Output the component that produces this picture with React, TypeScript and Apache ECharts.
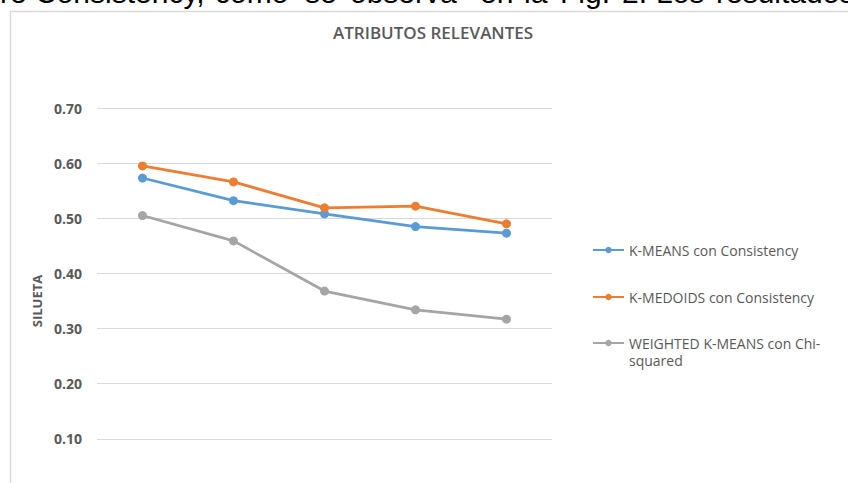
import React, { useEffect, useRef } from "react";
import * as echarts from "echarts";

// Number of clusters on the horizontal axis
const categories = ["2", "3", "4", "5", "6"];

// Silhouette scores per method
const kMeansConsistency = [0.573, 0.532, 0.508, 0.485, 0.473];
const kMedoidsConsistency = [0.595, 0.566, 0.519, 0.522, 0.49];
const weightedKMeansChi = [0.505, 0.459, 0.368, 0.334, 0.317];

const seriesNames = [
  "K-MEANS con Consistency",
  "K-MEDOIDS con Consistency",
  "WEIGHTED K-MEANS con Chi-squared",
];
const seriesColors = ["#5B9BD5", "#ED7D31", "#A5A5A5"];

// Running (justified) text of the page above the figure: word and its left edge
const bodyWords: [string, number][] = [
  ["re", 0],
  ["Consistency,", 35],
  ["como", 215],
  ["se", 305],
  ["observa", 350],
  ["en", 480],
  ["la", 524],
  ["Fig.", 560],
  ["2.", 622],
  ["Los", 656],
  ["resultados", 716],
];

const uiFont = "'Open Sans', Lato, sans-serif";
const grey = "#595959";

export default function App() {
  const ref = useRef<HTMLDivElement>(null);

  useEffect(() => {
    if (!ref.current) return;
    const chart = echarts.init(ref.current, null, { renderer: "svg" });

    const legendTops = [241.25, 288.25, 316.75];
    const legendLabels = [
      seriesNames[0],
      seriesNames[1],
      "\nWEIGHTED K-MEANS con Chi-\nsquared",
    ];

    chart.setOption({
      animation: false,
      backgroundColor: "#ffffff",
      title: {
        text: "ATRIBUTOS RELEVANTES",
        left: 333,
        top: 24,
        padding: 0,
        textStyle: {
          fontFamily: uiFont,
          fontSize: 17,
          fontWeight: 600,
          color: grey,
        },
      },
      legend: seriesNames.map((name, i) => ({
        data: [name],
        left: 592,
        top: legendTops[i],
        padding: 0,
        orient: "vertical",
        itemWidth: 31,
        itemHeight: 8,
        formatter: () => legendLabels[i],
        textStyle: {
          fontFamily: uiFont,
          fontSize: 14,
          color: grey,
          lineHeight: 17.5,
        },
      })),
      grid: { left: 97, right: 296, top: 108, bottom: 66 },
      xAxis: {
        type: "category",
        data: categories,
        boundaryGap: true,
        axisLine: { lineStyle: { color: "#d9d9d9" } },
        axisTick: { show: false },
        axisLabel: { color: grey, fontFamily: uiFont, fontSize: 13 },
      },
      yAxis: {
        type: "value",
        min: 0,
        max: 0.7,
        interval: 0.1,
        name: "SILUETA",
        nameLocation: "middle",
        nameRotate: 90,
        nameGap: 53,
        nameTextStyle: {
          fontFamily: uiFont,
          fontSize: 13,
          fontWeight: 700,
          color: grey,
        },
        axisLine: { show: false },
        axisTick: { show: false },
        axisLabel: {
          margin: 15,
          color: grey,
          fontFamily: uiFont,
          fontSize: 14,
          fontWeight: 700,
          formatter: (v: number) => v.toFixed(2),
        },
        splitLine: { lineStyle: { color: "#d9d9d9", width: 1 } },
      },
      series: [kMeansConsistency, kMedoidsConsistency, weightedKMeansChi].map(
        (data, i) => ({
          name: seriesNames[i],
          type: "line",
          data,
          symbol: "circle",
          symbolSize: 9,
          color: seriesColors[i],
          lineStyle: { width: 2.75, color: seriesColors[i] },
          itemStyle: { color: seriesColors[i] },
        })
      ),
      graphic: [
        {
          type: "rect",
          shape: { x: 10.5, y: 11.5, width: 900, height: 700 },
          style: { fill: "none", stroke: "#d9d9d9", lineWidth: 1.5 },
          silent: true,
          z: -1,
        },
        ...bodyWords.map(([word, x]) => ({
          type: "text",
          x,
          y: -8,
          style: {
            text: word,
            fontFamily: "'Liberation Sans', Arial, sans-serif",
            fontSize: 30,
            fill: "#000000",
            verticalAlign: "middle",
          },
          silent: true,
        })),
      ],
    });

    return () => chart.dispose();
  }, []);

  return (
    <div
      style={{
        position: "fixed",
        left: 0,
        top: 0,
        width: 848,
        height: 483,
        overflow: "hidden",
        background: "#fff",
      }}
    >
      <div ref={ref} style={{ width: 848, height: 560 }} />
    </div>
  );
}
